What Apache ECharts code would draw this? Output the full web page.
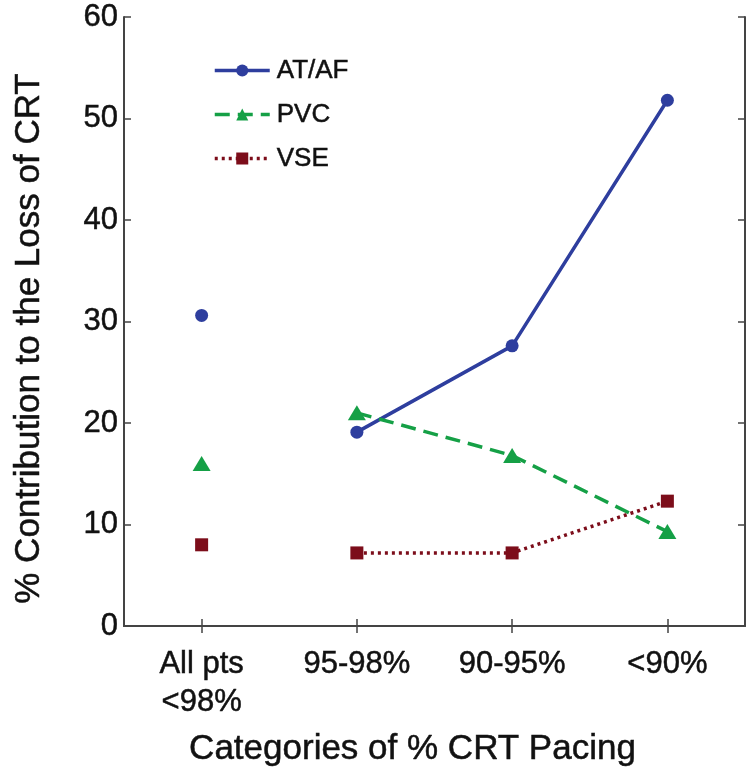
<!DOCTYPE html>
<html>
<head>
<meta charset="utf-8">
<script src="https://cdn.jsdelivr.net/npm/echarts@6/dist/echarts.min.js"></script>
<style>
  html, body { margin: 0; padding: 0; background: #fff; }
  #chart { width: 752px; height: 776px; }
</style>
</head>
<body>
<div id="chart"></div>
<script>
// Categories of CRT pacing (first one is the pooled group, drawn as unconnected markers)
const categories = ['All pts\n<98%', '95-98%', '90-95%', '<90%'];
// % contribution to the loss of CRT, one value per category
const atAf = [30.6, 19.1, 27.6, 51.8];
const pvc  = [16.0, 21.0, 16.8, 9.3];
const vse  = [8.0, 7.2, 7.2, 12.3];
const yTicks = [0, 10, 20, 30, 40, 50, 60];

const BLUE = '#2e3e9e';
const GREEN = '#15a046';
const RED = '#7c0d1a';
const FONT = 'Helvetica, "Liberation Sans", Arial, sans-serif';
const AXIS = '#444';
const INK = '#111';
// thin outline in the text colour to give the labels a little more weight
const heavy = { color: INK, textBorderColor: INK, textBorderWidth: 0.5, fontFamily: FONT };

// Pooled value shown alone; the three pacing bands are joined by a line
function lineData(arr) { return arr.map((v, i) => (i === 0 ? '-' : v)); }
function pooledData(arr) { return arr.map((v, i) => (i === 0 ? v : '-')); }

const seriesDefs = [
  { name: 'AT/AF', values: atAf, color: BLUE, symbol: 'circle', size: 13, dash: 'solid' },
  { name: 'PVC', values: pvc, color: GREEN, symbol: 'triangle', size: [18, 15], dash: [15, 8] },
  { name: 'VSE', values: vse, color: RED, symbol: 'rect', size: 13, dash: [3, 4] }
];

const series = [];
seriesDefs.forEach(d => {
  series.push({
    name: d.name, type: 'line', data: lineData(d.values),
    symbol: d.symbol, symbolSize: d.size, showAllSymbol: true,
    itemStyle: { color: d.color, opacity: 1 },
    lineStyle: { color: d.color, width: 3.5, type: d.dash },
    emphasis: { disabled: true }, z: 3
  });
});
seriesDefs.forEach(d => {
  series.push({
    name: d.name, type: 'scatter', data: pooledData(d.values),
    symbol: d.symbol, symbolSize: d.size,
    itemStyle: { color: d.color, opacity: 1 }, emphasis: { disabled: true }, z: 3
  });
});

const chart = echarts.init(document.getElementById('chart'), null, { renderer: 'canvas' });
const tickCommon = { show: true, inside: true, length: 7, lineStyle: { color: AXIS, width: 1.5 } };
chart.setOption({
  animation: false,
  backgroundColor: '#fff',
  textStyle: { fontFamily: FONT },
  grid: { left: 124, right: 7, top: 17, bottom: 150, containLabel: false },
  legend: {
    orient: 'vertical', left: 208, top: 52,
    itemWidth: 55, itemHeight: 15, itemGap: 17,
    data: seriesDefs.map(d => ({
      name: d.name,
      lineStyle: { width: 3.5, color: d.color, type: d.dash }
    })),
    textStyle: Object.assign({ fontSize: 26, lineHeight: 27, padding: [0, 0, 0, 2] }, heavy),
    selectedMode: false
  },
  xAxis: [
    {
      type: 'category', data: categories, boundaryGap: true, position: 'bottom',
      axisLine: { show: true, lineStyle: { color: AXIS, width: 2 } },
      axisTick: Object.assign({ alignWithLabel: true }, tickCommon),
      axisLabel: Object.assign({ fontSize: 31, margin: 19, lineHeight: 38, interval: 0 }, heavy),
      splitLine: { show: false },
      name: 'Categories of % CRT Pacing', nameLocation: 'middle', nameGap: 106,
      nameTextStyle: Object.assign({ fontSize: 35, padding: [0, 44, 0, 0] }, heavy)
    },
    {
      type: 'category', data: categories, boundaryGap: true, position: 'top',
      axisLine: { show: true, lineStyle: { color: AXIS, width: 2 } },
      axisTick: Object.assign({ alignWithLabel: true }, tickCommon),
      axisLabel: { show: false }, splitLine: { show: false }
    }
  ],
  yAxis: [
    {
      type: 'value', min: 0, max: 60, interval: 10, position: 'left',
      axisLine: { show: true, lineStyle: { color: AXIS, width: 2 } },
      axisTick: tickCommon,
      axisLabel: Object.assign({
        fontSize: 31, margin: 6,
        formatter: v => (yTicks.indexOf(v) >= 0 ? String(v) : '')
      }, heavy),
      splitLine: { show: false },
      name: '% Contribution to the Loss of CRT', nameLocation: 'middle', nameGap: 77,
      nameTextStyle: Object.assign({ fontSize: 35, padding: [0, 34, 0, 0] }, heavy)
    },
    {
      type: 'value', min: 0, max: 60, interval: 10, position: 'right',
      axisLine: { show: true, lineStyle: { color: AXIS, width: 2 } },
      axisTick: tickCommon, axisLabel: { show: false }, splitLine: { show: false }
    }
  ],
  series: series
});
</script>
</body>
</html>
